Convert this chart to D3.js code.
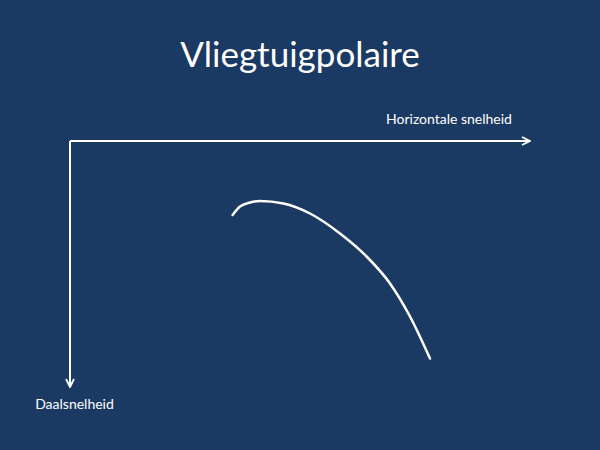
<!DOCTYPE html>
<html><head><meta charset="utf-8">
<script src="https://cdn.jsdelivr.net/npm/d3@7"></script>
<style>body{margin:0;background:#1b3a63;}svg{display:block;}</style>
</head><body>
<script>
const title = "Vliegtuigpolaire";
const xLabel = "Horizontale snelheid";
const yLabel = "Daalsnelheid";
// horizontal speed (km/h) and sink rate (m/s)
const speed = [81.3, 85, 90, 95, 106.7, 120, 135, 148.3, 160, 170, 180];
const sink  = [1.48, 1.31, 1.23, 1.2, 1.25, 1.45, 1.85, 2.31, 2.85, 3.51, 4.35];
const xDomain = [0, 230];
const yDomain = [0, 4.92];

const W = 600, H = 450;
const svg = d3.select("body").append("svg").attr("width", W).attr("height", H);
svg.append("rect").attr("width", W).attr("height", H).attr("fill", "#1b3a63");

const ox = 70, oy = 141;
const x = d3.scaleLinear().domain(xDomain).range([ox, 530]);
const y = d3.scaleLinear().domain(yDomain).range([oy, 387]);

svg.append("text").attr("x", 300).attr("y", 67).attr("text-anchor", "middle")
  .attr("fill", "#fff").attr("font-family", "Lato, 'Open Sans', sans-serif")
  .attr("font-size", 35).text(title);

const defs = svg.append("defs");
defs.append("marker").attr("id", "arr").attr("viewBox", "0 0 10 10")
  .attr("refX", 9).attr("refY", 5).attr("markerWidth", 10).attr("markerHeight", 10)
  .attr("markerUnits", "userSpaceOnUse").attr("orient", "auto")
  .append("path").attr("d", "M1,1 L9,5 L1,9").attr("fill", "none")
  .attr("stroke", "#fff").attr("stroke-width", 1.8);

const ax = svg.append("g").attr("stroke", "#fff").attr("stroke-width", 2).attr("fill", "none");
ax.append("line").attr("x1", x(xDomain[0])).attr("y1", y(0)).attr("x2", x(xDomain[1])).attr("y2", y(0))
  .attr("marker-end", "url(#arr)");
ax.append("line").attr("x1", x(0)).attr("y1", y(yDomain[0])).attr("x2", x(0)).attr("y2", y(yDomain[1]))
  .attr("marker-end", "url(#arr)");

svg.append("text").attr("x", 449).attr("y", 124).attr("text-anchor", "middle")
  .attr("fill", "#fff").attr("font-family", "Lato, 'Open Sans', sans-serif")
  .attr("font-size", 14).text(xLabel);
svg.append("text").attr("x", 74.5).attr("y", 409).attr("text-anchor", "middle")
  .attr("fill", "#fff").attr("font-family", "Lato, 'Open Sans', sans-serif")
  .attr("font-size", 14).text(yLabel);

const pts = speed.map((s, i) => [s, sink[i]]);
svg.append("path").datum(pts)
  .attr("d", d3.line().x(d => x(d[0])).y(d => y(d[1])).curve(d3.curveMonotoneX))
  .attr("fill", "none").attr("stroke", "#fff").attr("stroke-width", 2.5).attr("stroke-linecap", "round");
</script>
</body></html>
